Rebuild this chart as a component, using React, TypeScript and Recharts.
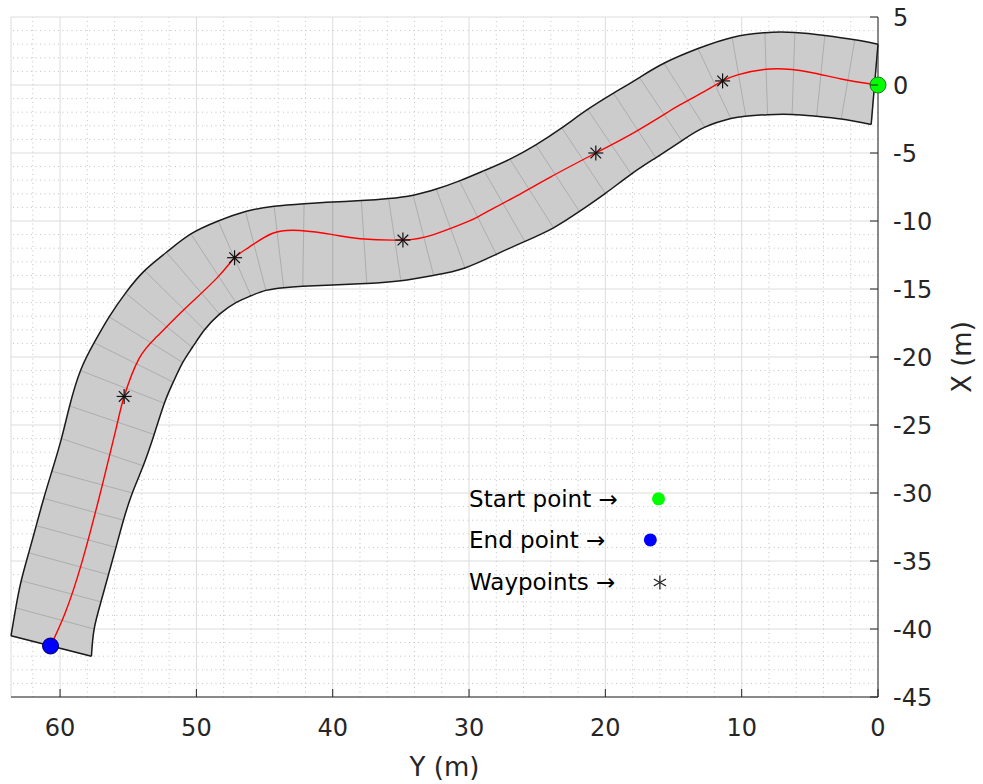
import React from 'react';
import { ScatterChart, Scatter, XAxis, YAxis, CartesianGrid, ReferenceLine, Curve } from 'recharts';

// ---------- axis ticks ----------
const yTicksBottom = [0, 10, 20, 30, 40, 50, 60];
const xTicksRight = [-45, -40, -35, -30, -25, -20, -15, -10, -5, 0, 5];
const bottomDomain = [0, 63.6];
const rightDomain = [-45, 5];

// ---------- road: paired stations on outer (A) and inner (B) edges ----------
const edgeAY = [0.0, 1.7, 3.9, 6.1, 8.3, 10.7, 13.2, 15.7, 17.5, 19.4, 21.3, 23.2, 25.1, 27.0, 28.9, 30.7, 32.4, 34.1, 35.9, 37.9, 40.0, 42.1, 44.3, 46.4, 48.4, 50.4, 52.2, 53.8, 55.2, 56.4, 57.5, 58.5, 59.3, 59.9, 60.6, 61.2, 61.75, 62.3, 62.85, 63.25, 63.6];
const edgeAX = [3.0, 3.32, 3.64, 3.86, 3.85, 3.5, 2.68, 1.6, 0.55, -0.6, -1.8, -3.15, -4.4, -5.45, -6.3, -7.05, -7.65, -8.1, -8.35, -8.5, -8.6, -8.73, -8.92, -9.3, -10.0, -10.95, -12.3, -13.65, -15.3, -17.05, -18.95, -21.0, -23.6, -26.0, -28.4, -30.4, -32.4, -34.4, -36.45, -38.45, -40.5];
const edgeBY = [0.5, 2.7, 4.5, 6.3, 8.1, 9.7, 10.8, 12.7, 14.4, 16.3, 18.1, 20.0, 21.9, 23.8, 25.9, 28.0, 30.3, 32.6, 35.0, 37.5, 40.0, 42.2, 43.6, 44.9, 46.0, 47.1, 48.3, 49.4, 50.3, 51.0, 51.7, 52.35, 53.1, 53.9, 54.7, 55.35, 55.9, 56.45, 57.0, 57.5, 57.7];
const edgeBX = [-2.9, -2.5, -2.3, -2.16, -2.18, -2.3, -2.47, -3.1, -4.1, -5.35, -6.55, -7.97, -9.3, -10.5, -11.5, -12.45, -13.45, -14.0, -14.4, -14.6, -14.7, -14.8, -14.9, -15.1, -15.5, -16.0, -16.85, -18.0, -19.3, -20.4, -21.85, -23.4, -25.7, -28.0, -30.0, -32.0, -34.0, -36.0, -38.0, -40.0, -42.0];

// ---------- planned path (red) ----------
const pathY = [0, 2.7, 5.1, 7.9, 10.3, 11.4, 13.0, 14.5, 15.5, 17.9, 20.7, 24.0, 26.5, 29.0, 30.1, 32.6, 34.85, 38.0, 40.0, 42.4, 44.4, 46.1, 47.2, 48.5, 51.0, 52.9, 54.2, 55.3, 55.9, 57.1, 58.4, 59.6, 60.7];
const pathX = [0, 0.44, 0.96, 1.18, 0.75, 0.3, -0.62, -1.45, -2.05, -3.5, -5.0, -6.75, -8.15, -9.5, -10.05, -11.0, -11.4, -11.3, -11.0, -10.7, -10.9, -11.9, -12.7, -14.2, -16.6, -18.5, -20.1, -22.9, -25.3, -30.2, -35.1, -38.75, -41.25];

// ---------- points ----------
const waypointY = [11.4, 20.7, 34.85, 47.2, 55.3];
const waypointX = [0.3, -5.0, -11.4, -12.7, -22.9];
const startY = [0];
const startX = [0];
const endY = [60.7];
const endX = [-41.25];

// ---------- legend annotations ----------
const legendLabels = ['Start point \u2192', 'End point \u2192', 'Waypoints \u2192'];
const legendKinds = ['start', 'end', 'waypoint'];
const legendRowX = [-30.43, -33.45, -36.58];
const legendTextY = 30.0;
const legendMarkerY = [16.1, 16.7, 16.0];

// ---------- minor grid values ----------
const minorBottom: number[] = [];
for (let v = 2; v <= 62; v += 2) if (v % 10 !== 0) minorBottom.push(v);
const minorRight: number[] = [];
for (let v = -44; v <= 4; v += 1) if (v % 5 !== 0) minorRight.push(v);

// ---------- derived tables ----------
const edgeA = edgeAY.map((y, i) => ({ ym: y, xm: edgeAX[i] }));
const edgeB = edgeBY.map((y, i) => ({ ym: y, xm: edgeBX[i] }));
const polygonData = [...edgeA, ...edgeB.slice().reverse()];
const crossData = edgeA.flatMap((a, i) => [a, edgeB[i]]);
const pathData = pathY.map((y, i) => ({ ym: y, xm: pathX[i] }));
const waypointData = waypointY.map((y, i) => ({ ym: y, xm: waypointX[i] }));
const startData = startY.map((y, i) => ({ ym: y, xm: startX[i] }));
const endData = endY.map((y, i) => ({ ym: y, xm: endX[i] }));
const legendTextData = legendLabels.map((l, i) => ({ ym: legendTextY, xm: legendRowX[i], label: l }));
const legendMarkerData = legendKinds.map((k, i) => ({ ym: legendMarkerY[i], xm: legendRowX[i], kind: k }));

const FONT = '"DejaVu Sans", "Liberation Sans", sans-serif';
const AXIS = '#262626';
const NEDGE = edgeA.length;

const NoShape = () => <g />;

const fillLine = (p: any) => {
  const pts = p.points || [];
  if (!pts.length) return <g />;
  const d = pts.map((q: any, i: number) => `${i ? 'L' : 'M'}${q.x},${q.y}`).join(' ') + ' Z';
  return <path d={d} fill="#cccccc" stroke="none" />;
};

const crossLine = (p: any) => {
  const pts = p.points || [];
  let d = '';
  for (let i = 0; i + 1 < pts.length; i += 2) {
    d += `M${pts[i].x},${pts[i].y} L${pts[i + 1].x},${pts[i + 1].y} `;
  }
  return <path d={d} fill="none" stroke="#a9a9a9" strokeWidth={0.9} />;
};

const outlineLine = (p: any) => {
  const pts = p.points || [];
  if (!pts.length) return <g />;
  const a = pts.slice(0, NEDGE);
  const b = pts.slice(NEDGE).reverse();
  const st = { fill: 'none', stroke: '#1a1a1a', strokeWidth: 1.5 };
  return (
    <g>
      <Curve type="natural" points={a} {...st} />
      <Curve type="natural" points={b} {...st} />
      <line x1={a[0].x} y1={a[0].y} x2={b[0].x} y2={b[0].y} {...st} />
      <line x1={a[a.length - 1].x} y1={a[a.length - 1].y} x2={b[b.length - 1].x} y2={b[b.length - 1].y} {...st} />
    </g>
  );
};

const Asterisk = (p: any) => {
  const { cx, cy } = p;
  const r = 7.5;
  const q = 5.3;
  return (
    <g stroke="#111" strokeWidth={1.2}>
      <line x1={cx} y1={cy - r} x2={cx} y2={cy + r} />
      <line x1={cx - r} y1={cy} x2={cx + r} y2={cy} />
      <line x1={cx - q} y1={cy - q} x2={cx + q} y2={cy + q} />
      <line x1={cx - q} y1={cy + q} x2={cx + q} y2={cy - q} />
    </g>
  );
};

const StartDot = (p: any) => <circle cx={p.cx} cy={p.cy} r={8} fill="#00ff00" stroke="#1e7a1e" strokeWidth={1} />;
const EndDot = (p: any) => <circle cx={p.cx} cy={p.cy} r={8} fill="#0000ff" stroke="#000060" strokeWidth={1} />;

const LegendText = (p: any) => (
  <text x={p.cx} y={p.cy} dominantBaseline="central" fontSize={23} fontFamily={FONT} fill="#000">
    {p.payload && p.payload.label}
  </text>
);

const LegendMarker = (p: any) => {
  const { cx, cy } = p;
  const kind = p.payload && p.payload.kind;
  if (kind === 'start') return <circle cx={cx} cy={cy} r={6.5} fill="#00ff00" />;
  if (kind === 'end') return <circle cx={cx} cy={cy} r={6.5} fill="#0000ff" />;
  const r = 7;
  return (
    <g stroke="#222" strokeWidth={1.3}>
      <line x1={cx} y1={cy - r} x2={cx} y2={cy + r} />
      <line x1={cx - r * 0.87} y1={cy - r * 0.5} x2={cx + r * 0.87} y2={cy + r * 0.5} />
      <line x1={cx - r * 0.87} y1={cy + r * 0.5} x2={cx + r * 0.87} y2={cy - r * 0.5} />
    </g>
  );
};

const XTick = (p: any) => {
  const { x, y, payload } = p;
  return (
    <g>
      <line x1={x} y1={y} x2={x} y2={y - 8} stroke={AXIS} strokeWidth={1} />
      <text x={x} y={y + 31} textAnchor="middle" dominantBaseline="central" fontSize={24} fontFamily={FONT} fill={AXIS}>
        {payload.value}
      </text>
    </g>
  );
};

const YTick = (p: any) => {
  const { x, y, payload } = p;
  return (
    <g>
      <line x1={x} y1={y} x2={x - 8} y2={y} stroke={AXIS} strokeWidth={1} />
      <text x={x + 15} y={y + 1} textAnchor="start" dominantBaseline="central" fontSize={24} fontFamily={FONT} fill={AXIS}>
        {payload.value}
      </text>
    </g>
  );
};

const XTitle = (p: any) => {
  const vb = p.viewBox || { x: 11, y: 697, width: 867, height: 87 };
  return (
    <text x={vb.x + vb.width / 2} y={vb.y + 70} textAnchor="middle" dominantBaseline="central" fontSize={26} fontFamily={FONT} fill={AXIS}>
      Y (m)
    </text>
  );
};

const YTitle = (p: any) => {
  const vb = p.viewBox || { x: 878, y: 17, width: 105, height: 680 };
  const cx = vb.x + 84;
  const cy = vb.y + vb.height / 2;
  return (
    <text x={cx} y={cy} transform={`rotate(-90, ${cx}, ${cy})`} textAnchor="middle" dominantBaseline="central" fontSize={26} fontFamily={FONT} fill={AXIS}>
      X (m)
    </text>
  );
};

export default function App() {
  return (
    <div style={{ position: 'fixed', left: 0, top: 0, width: 983, height: 784, background: '#fff' }}>
      <ScatterChart width={983} height={784} margin={{ top: 17, right: 0, bottom: 0, left: 11 }}>
        <CartesianGrid stroke="#dcdcdc" strokeWidth={1} />
        {minorBottom.map((v) => (
          <ReferenceLine key={`mb${v}`} x={v} stroke="#c4c4c4" strokeWidth={1} strokeDasharray="1 3.5" />
        ))}
        {minorRight.map((v) => (
          <ReferenceLine key={`mr${v}`} y={v} stroke="#c4c4c4" strokeWidth={1} strokeDasharray="1 3.5" />
        ))}
        <XAxis
          type="number"
          dataKey="ym"
          domain={bottomDomain}
          reversed
          ticks={yTicksBottom}
          interval={0}
          height={87}
          tickSize={0}
          tickMargin={0}
          tickLine={false}
          axisLine={{ stroke: AXIS, strokeWidth: 1 }}
          tick={XTick}
          label={XTitle}
        />
        <YAxis
          type="number"
          dataKey="xm"
          orientation="right"
          domain={rightDomain}
          ticks={xTicksRight}
          interval={0}
          width={105}
          tickSize={0}
          tickMargin={0}
          tickLine={false}
          axisLine={{ stroke: AXIS, strokeWidth: 1 }}
          tick={YTick}
          label={YTitle}
        />
        <Scatter data={polygonData} shape={NoShape} line={fillLine} isAnimationActive={false} />
        <Scatter data={crossData} shape={NoShape} line={crossLine} isAnimationActive={false} />
        <Scatter data={polygonData} shape={NoShape} line={outlineLine} isAnimationActive={false} />
        <Scatter
          data={pathData}
          shape={NoShape}
          line={{ stroke: '#ff0000', strokeWidth: 1.4 }}
          lineJointType="natural"
          isAnimationActive={false}
        />
        <Scatter data={waypointData} shape={Asterisk} isAnimationActive={false} />
        <Scatter data={startData} shape={StartDot} isAnimationActive={false} />
        <Scatter data={endData} shape={EndDot} isAnimationActive={false} />
        <Scatter data={legendTextData} shape={LegendText} isAnimationActive={false} />
        <Scatter data={legendMarkerData} shape={LegendMarker} isAnimationActive={false} />
      </ScatterChart>
    </div>
  );
}
